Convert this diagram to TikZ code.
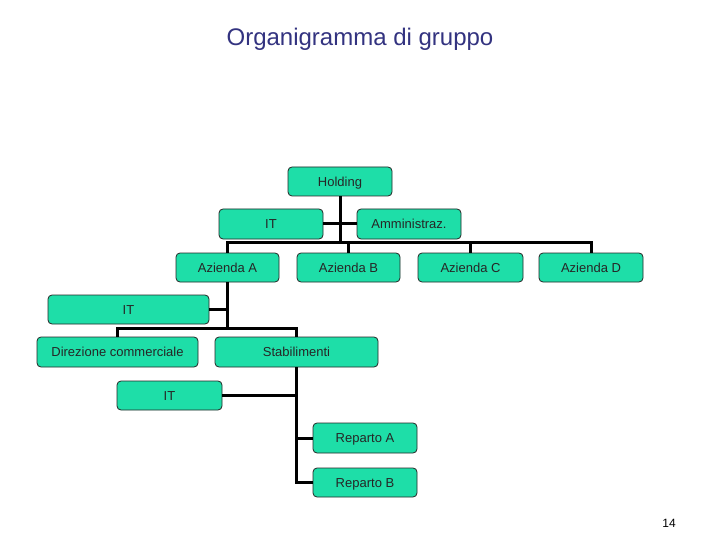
\documentclass[tikz,border=0pt]{standalone}
\usepackage{fontspec}
\setmainfont{Liberation Sans}
\definecolor{boxfill}{RGB}{30,222,168}
\definecolor{titlecol}{RGB}{51,51,128}
\begin{document}
\begin{tikzpicture}[x=1pt,y=-1pt,
  orgbox/.style={draw=black!85,line width=0.8pt,fill=boxfill,rounded corners=4pt,
    inner sep=0pt,minimum height=29pt,text height=9.4pt,text depth=0pt,
    font=\fontsize{13}{15}\selectfont,text=black!85},
  conn/.style={line width=3pt,black}]
\fill[white] (0,0) rectangle (720,540);
\useasboundingbox (0,0) rectangle (720,540);
\node[text=titlecol,font=\fontsize{24}{28}\selectfont] (title) at (360,39) {Organigramma di gruppo};
\node[font=\fontsize{12}{14}\selectfont] (page) at (669,523) {14};

\node[orgbox,minimum width=104pt] (hold) at (340,181.5) {Holding};
\node[orgbox,minimum width=104pt,minimum height=30pt] (it1) at (271,224) {IT};
\node[orgbox,minimum width=104pt,minimum height=30pt] (amm) at (409,224) {Amministraz.};
\node[orgbox,minimum width=103pt] (aza) at (227.5,267.5) {Azienda A};
\node[orgbox,minimum width=103pt] (azb) at (348.5,267.5) {Azienda B};
\node[orgbox,minimum width=105pt] (azc) at (470.5,267.5) {Azienda C};
\node[orgbox,minimum width=104pt] (azd) at (591,267.5) {Azienda D};
\node[orgbox,minimum width=161pt] (it2) at (128.5,309.5) {IT};
\node[orgbox,minimum width=161pt,minimum height=30pt] (dir) at (117.5,352) {Direzione commerciale};
\node[orgbox,minimum width=163pt,minimum height=30pt] (stab) at (296.5,352) {Stabilimenti};
\node[orgbox,minimum width=105pt] (it3) at (169.5,395.5) {IT};
\node[orgbox,minimum width=104pt,minimum height=30pt] (repa) at (365,438) {Reparto A};
\node[orgbox,minimum width=104pt] (repb) at (365,482.5) {Reparto B};

\coordinate (bus1) at (340,242);
\coordinate (bus2) at (227.5,328);

\draw[conn] (hold.south) -- (bus1);
\draw[conn] (it1.east) -- (amm.west);
\draw[conn] (aza.north) |- (bus1) -| (azd.north);
\draw[conn] (azb.north) -- (azb.north |- bus1);
\draw[conn] (azc.north) -- (azc.north |- bus1);
\draw[conn] (aza.south) -- (bus2);
\draw[conn] (it2.east) -- (it2.east -| aza.south);
\draw[conn] (dir.north) |- (bus2) -| (stab.north);
\draw[conn] (stab.south) |- (repb.west);
\draw[conn] (it3.east) -- (it3.east -| stab.south);
\draw[conn] (repa.west) -- (repa.west -| stab.south);
\end{tikzpicture}
\end{document}
